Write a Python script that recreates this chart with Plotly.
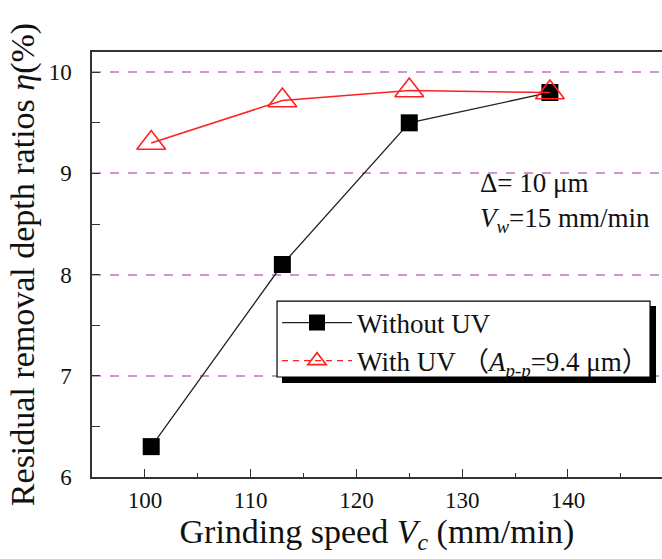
import plotly.graph_objects as go

speed = [100.6, 113.0, 125.0, 138.3]
without_uv = [6.3, 8.1, 9.5, 9.8]
with_uv = [9.3, 9.72, 9.82, 9.8]

name_without = "Without UV"
name_with = "With UV \uff08<i>A</i><sub><i>p-p</i></sub>=9.4 \u03bcm\uff09"

FONT = "Liberation Serif, Noto Sans CJK SC, serif"

fig = go.Figure()
fig.add_trace(go.Scatter(
    x=speed, y=without_uv, mode="lines+markers", name=name_without,
    line=dict(color="#222222", width=1.3),
    marker=dict(symbol="square", size=17, color="black"),
    showlegend=True, legendrank=1,
))
fig.add_trace(go.Scatter(
    x=speed, y=with_uv, mode="lines+markers", name=name_with,
    line=dict(color="#ff2020", width=1.5),
    marker=dict(symbol="triangle-up-open", size=25, color="#ff2020", line=dict(width=1.6)),
    showlegend=False,
))
fig.add_trace(go.Scatter(
    x=[None], y=[None], mode="lines+markers", name=name_with,
    line=dict(color="#ff2020", width=1.2, dash="6px,5px"),
    marker=dict(symbol="triangle-up-open", size=25, color="#ff2020", line=dict(width=1.6)),
    showlegend=True, legendrank=2,
))

fig.update_layout(
    width=662, height=559,
    margin=dict(l=92, r=0, t=52, b=82),
    paper_bgcolor="white", plot_bgcolor="white",
    font=dict(family=FONT, color="#111111", size=23),
    legend=dict(
        x=0.3246, y=0.42, xanchor="left", yanchor="top",
        bgcolor="rgba(0,0,0,0)", borderwidth=0,
        font=dict(size=27, family=FONT), itemwidth=70,
        tracegroupgap=0,
    ),
    xaxis=dict(
        range=[95, 148.9], tickvals=[100, 110, 120, 130, 140],
        ticks="inside", ticklen=8, tickcolor="#333", tickwidth=1.3,
        minor=dict(ticks="inside", ticklen=4, dtick=5, tickcolor="#333", tickwidth=1.3),
        showline=True, linecolor="#333", linewidth=1.5, mirror=True,
        showgrid=False, zeroline=False,
        ticklabelstandoff=2,
        title=dict(text="Grinding speed <i>V</i><sub><i>c</i></sub> (mm/min)", font=dict(size=34), standoff=4),
    ),
    yaxis=dict(
        range=[6, 10.2], tickvals=[6, 7, 8, 9, 10],
        ticks="inside", ticklen=8, tickcolor="#333", tickwidth=1.3,
        minor=dict(ticks="inside", ticklen=8, dtick=0.5, tickcolor="#333", tickwidth=1.3, showgrid=False),
        showline=True, linecolor="#333", linewidth=1.5, mirror=False,
        showgrid=True, gridcolor="#cc99cc", gridwidth=1.5, griddash="dash",
        zeroline=False,
        ticklabelstandoff=14,
        title=dict(text="Residual removal depth ratios <i>\u03b7</i>(%)", font=dict(size=34), standoff=4),
    ),
)

# legend shadow and box
fig.add_shape(type="rect", xref="paper", yref="paper",
              x0=0.3333, x1=0.9895, y0=0.2212, y1=0.4024,
              fillcolor="black", line=dict(width=0), layer="above")
fig.add_shape(type="rect", xref="paper", yref="paper",
              x0=0.3246, x1=0.979, y0=0.2353, y1=0.414,
              fillcolor="white", line=dict(color="black", width=1.2), layer="above")

fig.add_annotation(
    xref="paper", yref="paper", x=0.677, y=0.647, xanchor="left", yanchor="middle",
    text="\u0394= 10 \u03bcm<br><i>V</i><sub><i>w</i></sub>=15 mm/min", showarrow=False, align="left",
    font=dict(size=27, family=FONT, color="#111111"),
)

fig.write_html("out.html")
